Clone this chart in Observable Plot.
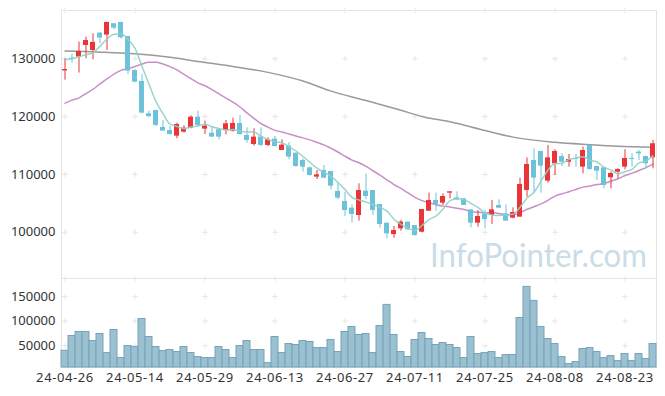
<!DOCTYPE html>
<html><head><meta charset="utf-8">
<script src="https://cdn.jsdelivr.net/npm/d3@7"></script>
<script src="https://cdn.jsdelivr.net/npm/@observablehq/plot@0.6"></script>
<style>
body{margin:0;background:#fff;}
#chart{position:relative;width:665px;height:396px;overflow:hidden;font-family:"Noto Sans",sans-serif;}
#chart svg{display:block;}
</style></head><body><div id="chart"></div>
<script>
const dates = ["24-04-26","24-04-29","24-04-30","24-05-02","24-05-03","24-05-07","24-05-08","24-05-09","24-05-10","24-05-13","24-05-14","24-05-16","24-05-17","24-05-20","24-05-21","24-05-22","24-05-23","24-05-24","24-05-27","24-05-28","24-05-29","24-05-30","24-05-31","24-06-03","24-06-04","24-06-05","24-06-07","24-06-10","24-06-11","24-06-12","24-06-13","24-06-14","24-06-17","24-06-18","24-06-19","24-06-20","24-06-21","24-06-24","24-06-25","24-06-26","24-06-27","24-06-28","24-07-01","24-07-02","24-07-03","24-07-04","24-07-05","24-07-08","24-07-09","24-07-10","24-07-11","24-07-12","24-07-15","24-07-16","24-07-17","24-07-18","24-07-19","24-07-22","24-07-23","24-07-24","24-07-25","24-07-26","24-07-29","24-07-30","24-07-31","24-08-01","24-08-02","24-08-05","24-08-06","24-08-07","24-08-08","24-08-09","24-08-12","24-08-13","24-08-14","24-08-16","24-08-19","24-08-20","24-08-21","24-08-22","24-08-23","24-08-26","24-08-27","24-08-28","24-08-29"];
const xTickLabels = ["24-04-26","24-05-14","24-05-29","24-06-13","24-06-27","24-07-11","24-07-25","24-08-08","24-08-23"];
const opens  = [127900,130100,130290,132300,131440,134440,134100,136060,136290,133860,127980,126080,120490,121060,118120,117600,116620,117310,118000,119900,117830,117140,117720,117600,117490,118810,116740,115180,116450,115010,116100,114140,114890,113680,112410,111140,109530,110680,110510,107050,105320,104160,102900,107110,107220,104800,101570,99600,100590,101750,101170,100010,103640,105490,105030,106760,105950,105780,103870,101570,103180,102900,104630,103180,102440,102610,107220,112410,113970,108840,111830,113100,112120,112700,111260,115010,111370,111140,109420,110390,111260,112760,113860,113100,112870];
const highs  = [130000,130800,132880,133750,134330,134560,136290,136060,136290,133860,128100,127290,120950,121060,119330,118300,118870,118410,120140,120950,119220,118180,117890,119330,119730,120200,118060,117890,118060,116330,116560,115990,115470,113680,112700,111260,110680,111550,110510,108490,106930,104740,108370,110100,107220,104800,101570,100990,102040,101750,101170,103930,106760,106760,106640,106990,106990,105780,103870,103760,103760,105490,105610,104740,104220,109360,112870,114430,113970,115010,114260,113560,113450,113450,114720,115010,111370,111140,110400,110970,114260,113560,114140,113100,115870];
const lows   = [126300,129250,127520,130000,129830,132600,131440,135000,133400,127290,125850,120490,119790,118300,117490,116800,116160,117140,117890,118300,116900,116450,115990,116850,117310,116800,115410,114890,114830,114830,114720,114140,112530,111200,110400,109700,109120,109240,107340,105610,102720,101630,101920,105610,102900,100700,98860,98970,100180,100300,99320,99890,103640,103640,104630,105780,105490,104630,100760,100870,100590,101340,104050,101920,102320,102610,106070,106760,106760,108490,109820,111370,111260,111250,110100,110680,108950,107510,107510,109240,110800,111260,112410,110970,110970];
const closes = [128150,129900,131270,133170,132830,133580,136290,135300,133630,127870,125960,120600,120000,118470,117490,116900,118640,118000,119900,118470,118350,116450,116450,118760,118810,116900,115870,116450,115010,115990,114830,115070,112990,111370,111260,109820,109930,109360,107970,105900,103760,103070,107220,106180,103760,101340,99720,100300,101750,100410,99430,103930,105490,104800,106180,106990,105610,104630,101570,102720,102200,103870,104160,101920,103410,108260,111720,109360,111430,112870,113970,112120,112580,112580,114140,110860,110560,108090,110160,110850,112760,112590,113560,111830,115300];
const volumes = [39800,69700,77900,77900,59500,73800,35000,82000,24800,49300,47300,104400,67700,47300,39100,41200,37100,47300,35000,26900,24800,24800,47300,41200,24800,49300,59500,41200,41200,14600,67700,35000,53400,51400,59500,57500,45200,45200,61600,37100,77900,88100,71800,73800,35000,90100,133000,71800,37100,26900,61600,75800,63600,51400,55400,51400,45200,24800,67700,33000,35000,37100,24800,31000,31000,106400,169700,141100,88100,63600,53400,26900,12600,16700,43200,45200,37100,24800,28900,18700,33000,18700,33000,22800,53400];
// moving-average values at the start of the window (need data from before it)
const ma5Lead  = [129830,130000,130350,130700];
const ma20Lead = [122330,122850,123250,123980,124730,125650,126540,127350,128000,128300,128650,129100,129380,129400,129100,128650,128070,127310,126550];
// long moving average (gray) at these day indexes
const maLongIdx  = [0,5,10,15,19,24,29,34,38,43,48,51,55,60,64,70,75,79,84];
const maLongVals = [131330,131150,130850,130250,129540,128670,127650,126150,124400,122790,121100,120030,119120,117600,116450,115550,115150,114890,114720];
const priceTicks = [100000,110000,120000,130000];
const volumeTicks = [50000,100000,150000];
const priceDomain = [92000,138350];
const volumeDomain = [5670,186670];

const rows = dates.map((d,i)=>({date:d, open:opens[i], high:highs[i], low:lows[i], close:closes[i], volume:volumes[i],
  ma5: i<4 ? ma5Lead[i] : d3.mean(closes.slice(i-4,i+1)),
  ma20: i<19 ? ma20Lead[i] : d3.mean(closes.slice(i-19,i+1))}));
const maLong = maLongIdx.map((k,j)=>({date:dates[k], v:maLongVals[j]}));

const UP="#ea3438", DOWN="#6cc3d9";
const col = d => d.close >= d.open ? UP : DOWN;
const W=665, ML=61, MR=9;
const style = {fontFamily:'"Noto Sans", sans-serif', fontSize:"13px", color:"#333", background:"transparent", overflow:"visible"};
const gridTop = [];
for (const t of xTickLabels) for (const v of [...priceTicks, priceDomain[1]]) gridTop.push({date:t, v});
const gridVol = [];
for (const t of xTickLabels) for (const v of [...volumeTicks, volumeDomain[1]]) gridVol.push({date:t, v});

const topPlot = Plot.plot({
  width:W, height:278, marginTop:10, marginBottom:0, marginLeft:ML, marginRight:MR, style,
  x:{type:"band", domain:dates, padding:0, axis:null},
  y:{domain:priceDomain, ticks:priceTicks, tickFormat:d3.format("d"), tickSize:0, tickPadding:6, label:null},
  marks:[
    Plot.frame({stroke:"#e4e4e4"}),
    Plot.dot(gridTop, {x:"date", y:"v", symbol:"plus", r:2, stroke:"#e6e6e6", strokeWidth:1}),
    Plot.line(maLong, {x:"date", y:"v", stroke:"#9a9a9a", strokeWidth:1.5, curve:"monotone-x"}),
    Plot.line(rows, {x:"date", y:"ma20", stroke:"#c88ec6", strokeWidth:1.5, curve:"monotone-x"}),
    Plot.ruleX(rows, {x:"date", y1:"low", y2:"high", stroke:col, strokeWidth:1}),
    Plot.barY(rows, {x:"date", y1:"open", y2:"close", fill:col, insetLeft:1, insetRight:1}),
    Plot.line(rows, {x:"date", y:"ma5", stroke:"#8fd0c4", strokeWidth:1.5, strokeOpacity:0.9, curve:"monotone-x"})
  ]
});
d3.select(topPlot).insert("text", ":first-child")
  .attr("x", 647).attr("y", 267).attr("text-anchor","end")
  .attr("font-family","Lato, 'Noto Sans', sans-serif").attr("font-size", 33)
  .attr("fill","#cadce7").attr("textLength", 217).attr("lengthAdjust","spacingAndGlyphs")
  .text("InfoPointer.com");

const volPlot = Plot.plot({
  width:W, height:118, marginTop:0, marginBottom:29, marginLeft:ML, marginRight:MR, style,
  x:{type:"band", domain:dates, padding:0, ticks:xTickLabels, tickSize:0, tickPadding:5, label:null},
  y:{domain:volumeDomain, ticks:volumeTicks, tickFormat:d3.format("d"), tickSize:0, tickPadding:6, label:null},
  marks:[
    Plot.frame({stroke:"#e4e4e4"}),
    Plot.dot(gridVol, {x:"date", y:"v", symbol:"plus", r:2, stroke:"#e6e6e6", strokeWidth:1}),
    Plot.barY(rows, {x:"date", y1:volumeDomain[0], y2:"volume", fill:"#9bc1d1", stroke:"#74a3bb", strokeWidth:1})
  ]
});
d3.select(volPlot).selectAll("[aria-label='x-axis tick label'] text, g[aria-label='x-axis tick label'] text").attr("letter-spacing","0.6px");
const c = document.getElementById("chart");
c.appendChild(topPlot);
c.appendChild(volPlot);
</script></body></html>
